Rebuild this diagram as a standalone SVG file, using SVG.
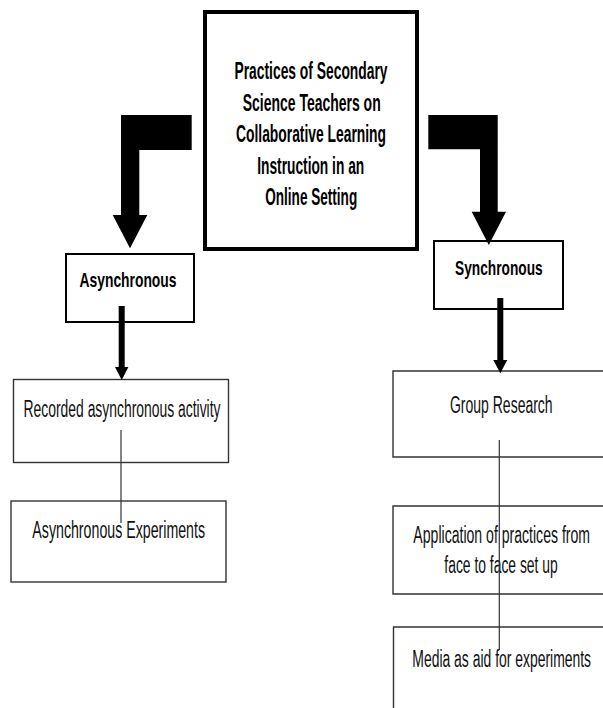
<svg xmlns="http://www.w3.org/2000/svg" width="603" height="708" viewBox="0 0 603 708">
<style>
.bg{fill:#fff}
.main{fill:#fff;stroke:#000;stroke-width:4}
.mid{fill:#fff;stroke:#000;stroke-width:2}
.leaf{fill:#fff;stroke:#333;stroke-width:1.4}
.tb{font-family:"Liberation Sans",Arial,sans-serif;font-weight:bold;fill:#000;text-anchor:middle}
.tr{font-family:"Liberation Sans",Arial,sans-serif;fill:#111;text-anchor:middle;font-size:23px}
.thick{fill:#000}
.thin{stroke:#333;stroke-width:1.2;fill:none}
</style>
<rect class="bg" x="0" y="0" width="603" height="708"/>
<g id="node-main">
<rect class="main" x="205" y="12" width="212" height="237"/>
<text class="tb" font-size="24" x="311" y="79.3" textLength="153" lengthAdjust="spacingAndGlyphs">Practices of Secondary</text>
<text class="tb" font-size="24" x="311.7" y="110.5" textLength="138" lengthAdjust="spacingAndGlyphs">Science Teachers on</text>
<text class="tb" font-size="24" x="311" y="142" textLength="150" lengthAdjust="spacingAndGlyphs">Collaborative Learning</text>
<text class="tb" font-size="24" x="310.7" y="174" textLength="107" lengthAdjust="spacingAndGlyphs">Instruction in an</text>
<text class="tb" font-size="24" x="311.2" y="205" textLength="92" lengthAdjust="spacingAndGlyphs">Online Setting</text>
</g>
<g id="node-asynchronous">
<rect class="mid" x="66" y="254" width="128" height="68"/>
<text class="tb" font-size="21" x="128" y="286.7" textLength="97" lengthAdjust="spacingAndGlyphs">Asynchronous</text>
</g>
<g id="node-synchronous">
<rect class="mid" x="434" y="241" width="129" height="68"/>
<text class="tb" font-size="21" x="498.9" y="275" textLength="87.7" lengthAdjust="spacingAndGlyphs">Synchronous</text>
</g>
<g id="node-recorded">
<rect class="leaf" x="13.5" y="379.5" width="215" height="83"/>
<text class="tr" x="122" y="416.7" textLength="197" lengthAdjust="spacingAndGlyphs">Recorded asynchronous activity</text>
</g>
<g id="node-async-experiments">
<rect class="leaf" x="11" y="501" width="215" height="81"/>
<text class="tr" x="118.7" y="538.3" textLength="172.7" lengthAdjust="spacingAndGlyphs">Asynchronous Experiments</text>
</g>
<g id="node-group-research">
<path class="leaf" d="M603,371 H393 V457 H603"/>
<text class="tr" x="501.3" y="413.3" textLength="102.7" lengthAdjust="spacingAndGlyphs">Group Research</text>
</g>
<g id="node-application">
<path class="leaf" d="M603,506 H393 V594 H603"/>
<text class="tr" x="501.7" y="543.3" textLength="176.7" lengthAdjust="spacingAndGlyphs">Application of practices from</text>
<text class="tr" x="501" y="573.3" textLength="113.3" lengthAdjust="spacingAndGlyphs">face to face set up</text>
</g>
<g id="node-media">
<path class="leaf" d="M603,627 H393.5 V708"/>
<text class="tr" x="501.7" y="666.7" textLength="178.7" lengthAdjust="spacingAndGlyphs">Media as aid for experiments</text>
</g>
<g id="connectors">
<polygon class="thick" points="191.7,115 121,115 121,215 112.7,215 130,248.3 147.3,215 139.3,215 139.3,150 191.7,150"/>
<polygon class="thick" points="428.3,115 497.7,115 497.7,211.7 506,211.7 488.8,245 471.7,211.7 480,211.7 480,149.3 428.3,149.3"/>
<rect class="thick" x="118.7" y="306" width="6" height="62"/>
<polygon class="thick" points="115,367 128.4,367 121.7,380"/>
<rect class="thick" x="497.3" y="298" width="6" height="63"/>
<polygon class="thick" points="493.3,360 507.3,360 500.3,373.3"/>
<line class="thin" x1="121" y1="430" x2="121" y2="523"/>
<line class="thin" x1="499.3" y1="440" x2="499.3" y2="650"/>
</g>
</svg>
